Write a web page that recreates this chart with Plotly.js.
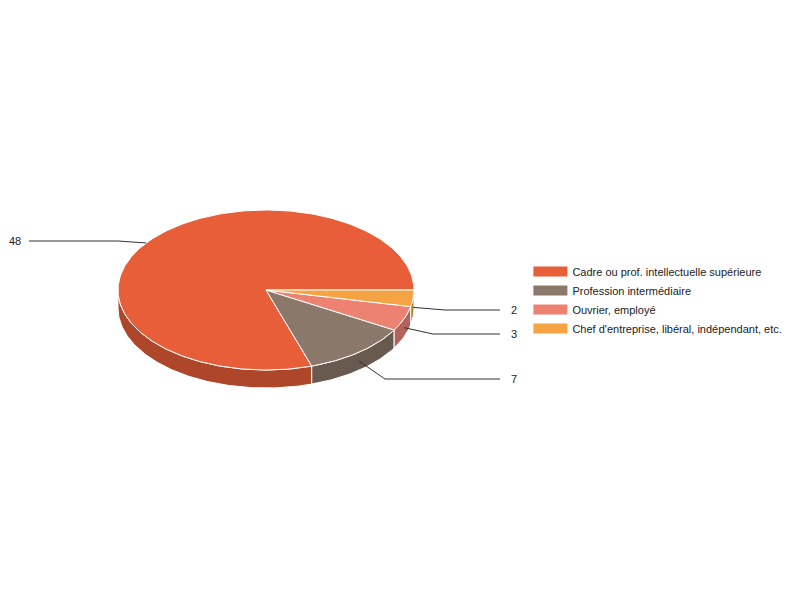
<!DOCTYPE html>
<html><head><meta charset="utf-8">
<script src="https://cdn.plot.ly/plotly-3.0.1.min.js"></script>
<style>body{margin:0;background:#fff}#chart{width:800px;height:600px}</style>
</head><body><div id="chart"></div>
<script>
// ---- data ----
const categories = ["Cadre ou prof. intellectuelle supérieure", "Profession intermédiaire", "Ouvrier, employé", "Chef d'entreprise, libéral, indépendant, etc."];
const values = [48, 7, 3, 2];
const valueLabels = ["48", "7", "3", "2"];

// ---- styles / geometry ----
const topColors = ["#E85E38", "#8A786A", "#EE8272", "#F6A344"];
const sideColors = ["#AE4629", "#695A4F", "#B2625A", "#B87A33"];
const geo = {cx: 266, cy: 290, rx: 148, ry: 80, depth: 18};
const labelCfg = [
  {textX: 23, y: 241, elbowX: 118, side: 'left'},
  {textX: 509, y: 379, elbowX: 385, side: 'right'},
  {textX: 509, y: 334, elbowX: 433, side: 'right'},
  {textX: 509, y: 310, elbowX: 445, side: 'right'}
];

function pt(t, dz) {
  const r = t * Math.PI / 180;
  return [geo.cx + geo.rx * Math.cos(r), geo.cy + geo.ry * Math.sin(r) + dz];
}
function arc(a, b, dz) {
  const out = [];
  const n = Math.max(2, Math.ceil(Math.abs(b - a)));
  for (let k = 0; k <= n; k++) out.push(pt(a + (b - a) * k / n, dz));
  return out;
}

const total = values.reduce((s, v) => s + v, 0);
const slices = [];
let a = 360;
values.forEach((v, i) => {
  const end = a, start = a - 360 * v / total;
  slices.push({start, end});
  a = start;
});

const traces = [];
// side walls (front half only)
slices.forEach((s, i) => {
  const lo = Math.max(s.start, 0), hi = Math.min(s.end, 180);
  if (hi <= lo) return;
  const pts = arc(lo, hi, 0).concat(arc(hi, lo, geo.depth));
  pts.push(pts[0]);
  traces.push({type: 'scatter', mode: 'lines', fill: 'toself', x: pts.map(p => p[0]), y: pts.map(p => p[1]),
    fillcolor: sideColors[i], line: {color: '#ffffff', width: 1}, showlegend: false, hoverinfo: 'skip'});
});
// top faces
slices.forEach((s, i) => {
  const c = [geo.cx, geo.cy];
  const pts = [c].concat(arc(s.start, s.end, 0), [c]);
  traces.push({type: 'scatter', mode: 'lines', fill: 'toself', x: pts.map(p => p[0]), y: pts.map(p => p[1]),
    fillcolor: topColors[i], line: {color: '#ffffff', width: 1}, showlegend: false, hoverinfo: 'skip'});
});
// legend entries
categories.forEach((c, i) => {
  traces.push({type: 'scatter', mode: 'lines', x: [null], y: [null], name: c,
    line: {color: topColors[i], width: 11}, showlegend: true, hoverinfo: 'skip'});
});
// leader lines
const annotations = [];
slices.forEach((s, i) => {
  const mid = (s.start + s.end) / 2;
  const m = ((mid % 360) + 360) % 360;
  const anchor = pt(m, (m > 0 && m < 180) ? geo.depth / 2 : 0);
  const L = labelCfg[i];
  const endX = L.side === 'left' ? L.textX + 6 : L.textX - 9;
  traces.push({type: 'scatter', mode: 'lines', x: [anchor[0], L.elbowX, endX], y: [anchor[1], L.y, L.y],
    line: {color: '#333333', width: 1}, showlegend: false, hoverinfo: 'skip'});
  annotations.push({x: L.textX, y: L.y, xref: 'x', yref: 'y', text: valueLabels[i], showarrow: false,
    xanchor: L.side === 'left' ? 'right' : 'left', yanchor: 'middle',
    font: {family: 'Arial, Liberation Sans, sans-serif', size: 11, color: '#222222'}});
});

const layout = {
  width: 800, height: 600,
  margin: {l: 0, r: 0, t: 0, b: 0},
  paper_bgcolor: '#ffffff', plot_bgcolor: '#ffffff',
  xaxis: {range: [0, 800], visible: false, fixedrange: true},
  yaxis: {range: [600, 0], visible: false, fixedrange: true},
  hovermode: false,
  showlegend: true,
  legend: {x: 0.6605, y: 1 - 257 / 600, xanchor: 'left', yanchor: 'top', itemwidth: 34,
    font: {family: 'Arial, Liberation Sans, sans-serif', size: 11, color: '#222222'},
    bgcolor: 'rgba(0,0,0,0)', tracegroupgap: 0},
  annotations: annotations
};
Plotly.newPlot('chart', traces, layout, {displayModeBar: false, staticPlot: true});
</script>
</body></html>
